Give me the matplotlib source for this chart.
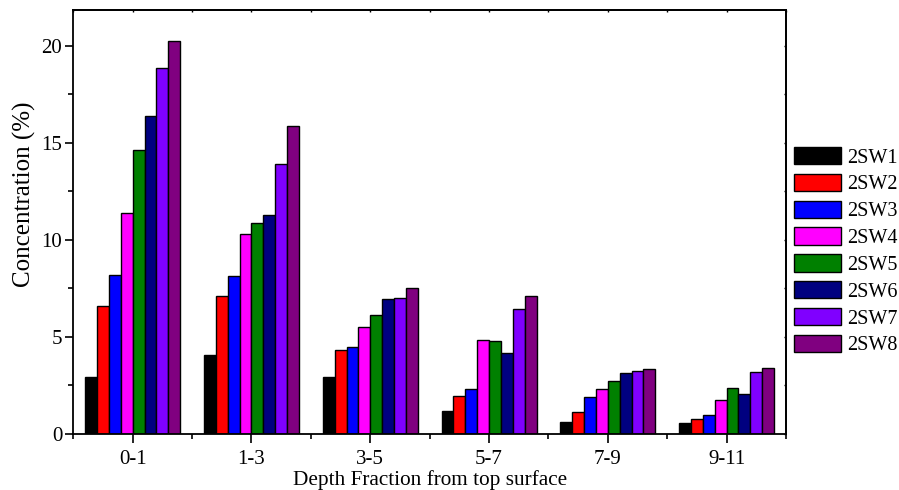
import matplotlib
matplotlib.use("Agg")
import matplotlib.pyplot as plt
import numpy as np
from matplotlib.ticker import MultipleLocator

plt.rcParams['font.family'] = ['Liberation Serif', 'DejaVu Serif']

categories = ["0-1", "1-3", "3-5", "5-7", "7-9", "9-11"]
series_names = ["2SW1", "2SW2", "2SW3", "2SW4", "2SW5", "2SW6", "2SW7", "2SW8"]
sw1 = [2.91, 4.06, 2.93, 1.18, 0.58, 0.54]
sw2 = [6.59, 7.12, 4.31, 1.95, 1.12, 0.76]
sw3 = [8.17, 8.14, 4.48, 2.30, 1.87, 0.98]
sw4 = [11.40, 10.29, 5.51, 4.84, 2.33, 1.72]
sw5 = [14.65, 10.89, 6.11, 4.79, 2.70, 2.34]
sw6 = [16.37, 11.27, 6.95, 4.14, 3.12, 2.03]
sw7 = [18.85, 13.90, 6.99, 6.42, 3.23, 3.17]
sw8 = [20.26, 15.86, 7.54, 7.11, 3.34, 3.39]
series = [sw1, sw2, sw3, sw4, sw5, sw6, sw7, sw8]
colors = ["#000000", "#FF0000", "#0000FF", "#FF00FF", "#008000", "#000080", "#8000FF", "#800080"]

fig = plt.figure(figsize=(8.99, 4.90), dpi=100)
ax = fig.add_axes([73.3/899, 1 - 433.7/490, (786 - 73.3)/899, (433.7 - 9.7)/490])

x = np.arange(len(categories))
width = 0.1
n = len(series)
for i, (vals, name, c) in enumerate(zip(series, series_names, colors)):
    offs = (i - (n - 1) / 2) * width
    ax.bar(x + offs, vals, width, color=c, edgecolor='black', linewidth=1.0, label=name)

ax.set_xlim(-0.5, 5.5)
ax.set_ylim(0, 21.87)
ax.set_xticks(x)
ax.set_xticklabels(categories)
ax.set_xticks(np.arange(-0.5, 5.6, 1.0), minor=True)
ax.yaxis.set_major_locator(MultipleLocator(5))
ax.yaxis.set_minor_locator(MultipleLocator(2.5))

ax.tick_params(axis='x', which='major', direction='out', length=6.5, width=1.2, labelsize=15, pad=5)
ax.tick_params(axis='x', which='minor', direction='out', length=3.5, width=1.2)
ax.tick_params(axis='y', which='major', direction='out', length=6, width=1.2, labelsize=15, pad=2)
ax.tick_params(axis='y', which='minor', direction='out', length=3.4, width=1.2)
for s in ax.spines.values():
    s.set_linewidth(1.3)

# tiny inward ticks on top and right
top = ax.secondary_xaxis('top')
top.set_xticks(x)
top.set_xticks(np.arange(-0.5, 5.6, 1.0), minor=True)
top.tick_params(which='both', direction='in', length=1.5, width=1.0, labeltop=False)
right = ax.secondary_yaxis('right')
right.yaxis.set_major_locator(MultipleLocator(5))
right.yaxis.set_minor_locator(MultipleLocator(2.5))
right.tick_params(which='both', direction='in', length=1.5, width=1.0, labelright=False)
for sa in (top, right):
    for s in sa.spines.values():
        s.set_linewidth(1.3)

ax.set_xlabel("Depth Fraction from top surface", fontsize=15.3, labelpad=1)
ax.set_ylabel("Concentration (%)", fontsize=18)
ax.yaxis.set_label_coords(-0.053, 0.565)

fig.legend(loc='upper left', bbox_to_anchor=(794/899, 1 - 147/490), frameon=False,
           fontsize=14.5, handlelength=2.34, handleheight=0.945, labelspacing=0.31,
           handletextpad=0.3, borderpad=0, borderaxespad=0)

fig.savefig("out.png", dpi=100)
